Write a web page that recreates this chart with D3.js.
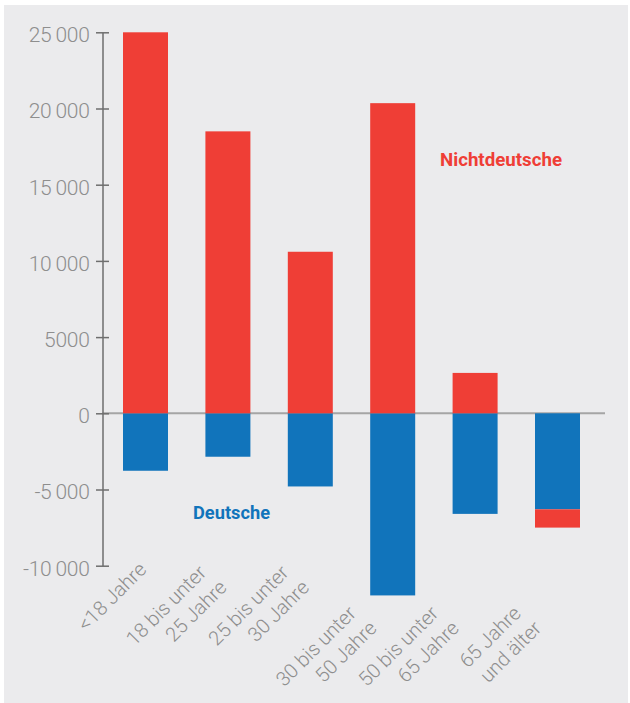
<!DOCTYPE html>
<html><head><meta charset="utf-8">
<script src="https://cdn.jsdelivr.net/npm/d3@7"></script>
<style>
html,body{margin:0;padding:0;background:#fff;}
svg{display:block;}
</style></head>
<body>
<script>
// Data
const categories = ["<18 Jahre", "18 bis unter\n25 Jahre", "25 bis unter\n30 Jahre", "30 bis unter\n50 Jahre", "50 bis unter\n65 Jahre", "65 Jahre\nund älter"];
const deutsche = [-3770, -2850, -4800, -11950, -6600, -6300];
const nichtdeutsche = [25000, 18500, 10600, 20350, 2650, -1200];
const yTicks = [-10000, -5000, 0, 5000, 10000, 15000, 20000, 25000];
const tickLabels = ["-10\u2009000", "-5\u2009000", "0", "5000", "10\u2009000", "15\u2009000", "20\u2009000", "25\u2009000"];
const seriesNames = ["Deutsche", "Nichtdeutsche"];

const W = 630, H = 703;
const RED = "#ef3e36", BLUE = "#1174bb", GREY = "#8e8e8e";

const svg = d3.select("body").append("svg").attr("width", W).attr("height", H);
svg.append("rect").attr("x", 4).attr("y", 5).attr("width", 624).attr("height", 698).attr("fill", "#ebebed");

const y = d3.scaleLinear().domain([-10000, 25000]).range([565.7, 32.3]);
const x = d3.scaleBand().domain(categories).range([85.6, 617.4]).paddingInner(0.454).paddingOuter(0.454);

const axisX = 102.5;

// zero line
svg.append("line").attr("x1", axisX).attr("x2", 605).attr("y1", y(0)).attr("y2", y(0))
  .attr("stroke", "#a5a5a5").attr("stroke-width", 2);

// y axis
const yAxis = d3.axisLeft(y).tickValues(yTicks).tickSize(0).tickFormat((d, i) => tickLabels[i]);
const gy = svg.append("g").attr("transform", `translate(${axisX},0)`).call(yAxis);
gy.select(".domain").attr("stroke", "#6e6e6e").attr("stroke-width", 1.5);
gy.selectAll(".tick line").remove();
gy.selectAll(".tick").append("line").attr("x1", -6.5).attr("x2", 6.5)
  .attr("stroke", "#6e6e6e").attr("stroke-width", 1.5);
gy.selectAll(".tick text").attr("x", -13).attr("dy", "0.45em")
  .attr("fill", GREY).attr("font-family", "Roboto").attr("font-weight", 300)
  .attr("font-size", 21).style("letter-spacing", "-0.3px");

// bars: stacked - blue from 0 to deutsche; red from 0 (or from blue end if negative)
const stacks = categories.map((c, i) => {
  const d = deutsche[i], n = nichtdeutsche[i];
  const segs = [{c, s: 0, y0: 0, y1: d, color: BLUE}];
  if (n >= 0) segs.push({c, s: 1, y0: 0, y1: n, color: RED});
  else segs.push({c, s: 1, y0: d, y1: d + n, color: RED});
  return segs;
}).flat();

svg.append("g").selectAll("rect").data(stacks).join("rect")
  .attr("x", d => x(d.c))
  .attr("width", x.bandwidth())
  .attr("y", d => y(Math.max(d.y0, d.y1)))
  .attr("height", d => Math.abs(y(d.y0) - y(d.y1)))
  .attr("fill", d => d.color);

// series labels
svg.append("text").attr("x", 440).attr("y", 166).text(seriesNames[1])
  .attr("fill", RED).attr("font-family", "Roboto").attr("font-weight", 700)
  .attr("font-size", 19).attr("textLength", 122).attr("lengthAdjust", "spacingAndGlyphs");
svg.append("text").attr("x", 193).attr("y", 519).text(seriesNames[0])
  .attr("fill", BLUE).attr("font-family", "Roboto").attr("font-weight", 700)
  .attr("font-size", 18).attr("textLength", 77).attr("lengthAdjust", "spacingAndGlyphs");

// x labels rotated
const lh = 25;
categories.forEach((c, i) => {
  const lines = c.split("\n");
  const cx = x(c) + x.bandwidth() / 2;
  const single = lines.length === 1;
  let ax, ay;
  if (i < 3) {
    const base = y(-10000) + 22;
    if (single) { ax = cx + 2; ay = base - 17; }
    else { ax = cx; ay = base + 1; }
  } else {
    const base = y(d3.min(deutsche.slice(3))) + 22;
    ax = cx - 15; ay = base + 12;
  }
  const g = svg.append("g").attr("transform", `translate(${ax},${ay}) rotate(-45)`);
  lines.forEach((t, k) => {
    const last = k === lines.length - 1;
    g.append("text").attr("x", last ? 0 : -4).attr("y", (k - (lines.length - 1)) * lh)
      .attr("text-anchor", "end").text(t)
      .attr("fill", GREY).attr("font-family", "Roboto").attr("font-weight", 300)
      .attr("font-size", 20);
  });
});
</script>
</body></html>
